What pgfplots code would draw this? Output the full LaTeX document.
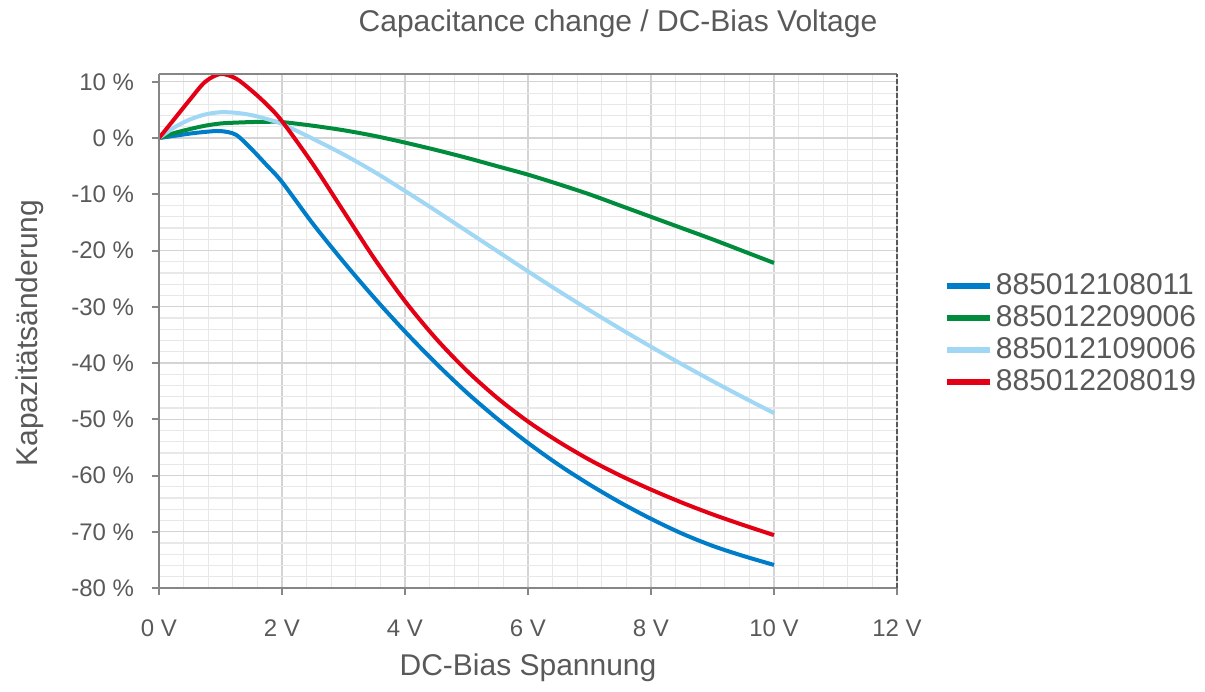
\documentclass[border=0pt]{standalone}
\usepackage{pgfplots}
\pgfplotsset{compat=1.18}
\usepackage{fontspec}
\setmainfont{Liberation Sans}

\definecolor{txt}{RGB}{89,89,89}
\definecolor{axgray}{RGB}{134,134,134}
\definecolor{majgrid}{RGB}{212,212,212}
\definecolor{mingrid}{RGB}{232,232,232}
\definecolor{cBlue}{RGB}{0,125,200}
\definecolor{cGreen}{RGB}{0,140,60}
\definecolor{cLight}{RGB}{160,215,245}
\definecolor{cRed}{RGB}{228,0,20}

% Kapazitaetsaenderung (%) over DC-Bias (V)
\pgfplotstableread{
V    b      g      l      r
0    0      0      0      0
0.25 0.4    0.9    1.9    3.4
0.5  0.8    1.6    3.3    6.8
0.75 1.1    2.2    4.2    10.0
1.0  1.25   2.6    4.6    11.4
1.25 0.6    2.75   4.5    10.6
1.5  -1.9   2.85   4.1    8.5
1.75 -4.8   2.9    3.4    6.0
2.0  -7.8   2.85   2.5    3.0
2.5  -15.2  2.2    -0.1   -4.6
3.0  -22.0  1.4    -2.9   -13.0
3.5  -28.4  0.4    -6.0   -21.4
4.0  -34.4  -0.8   -9.4   -29.0
4.5  -40.0  -2.1   -12.9  -35.6
5.0  -45.2  -3.5   -16.5  -41.3
5.5  -49.9  -5.0   -20.1  -46.2
6.0  -54.2  -6.5   -23.7  -50.4
6.5  -58.1  -8.2   -27.2  -54.0
7.0  -61.6  -10.0  -30.6  -57.2
7.5  -64.8  -12.0  -33.9  -60.0
8.0  -67.7  -14.0  -37.1  -62.5
8.5  -70.3  -16.0  -40.2  -64.8
9.0  -72.5  -18.0  -43.2  -66.9
9.5  -74.3  -20.1  -46.1  -68.8
10   -75.9  -22.2  -48.9  -70.6
}\capdata

\begin{document}
\begin{tikzpicture}[every node/.append style={text=txt}]
\useasboundingbox (-79.5bp,-52bp) rectangle (523bp,294bp);
\begin{axis}[
  name=ax,
  width=369bp, height=257bp, scale only axis,
  xmin=0, xmax=12, ymin=-80, ymax=11.4,
  xtick={0,2,...,12}, ytick={-80,-70,...,10},
  xticklabels={0 V,2 V,4 V,6 V,8 V,10 V,12 V},
  yticklabels={-80 \%,-70 \%,-60 \%,-50 \%,-40 \%,-30 \%,-20 \%,-10 \%,0 \%,10 \%},
  minor x tick num=4, minor y tick num=4,
  grid=both,
  major grid style={draw=majgrid, line width=0.6bp},
  minor grid style={draw=mingrid, line width=0.6bp},
  axis line style={draw=none},
  tick align=outside, major tick length=3.5bp, minor tick length=0pt,
  tick style={color=axgray, line width=1bp},
  xtick pos=left, ytick pos=left,
  ticklabel style={font=\fontsize{12bp}{14bp}\selectfont, text=txt},
  xticklabel style={yshift=-9bp},
  yticklabel style={xshift=-5.5bp},
  title={Capacitance change / DC-Bias Voltage},
  every axis title/.style={at={(axis description cs:0.622,1.097)}, anchor=center,
    text=txt, font=\fontsize{15bp}{18bp}\selectfont},
  xlabel={DC-Bias Spannung},
  xlabel style={at={(axis description cs:0.5,-0.156)}, anchor=center,
    text=txt, font=\fontsize{15bp}{18bp}\selectfont},
  ylabel={Kapazitätsänderung},
  ylabel style={at={(axis description cs:-0.175,0.496)}, anchor=center,
    text=txt, font=\fontsize{15bp}{18bp}\selectfont},
  legend style={at={(axis description cs:1.063,0.62)}, anchor=north west,
    draw=none, fill=none, inner sep=0pt, text=txt,
    font=\fontsize{15bp}{18bp}\selectfont,
    nodes={inner sep=1.5bp, text height=11bp, text depth=2bp, text=txt}},
  legend cell align=left,
  legend image code/.code={\draw[#1, line width=3bp] (0bp,0bp) -- (21.5bp,0bp);},
  every axis plot/.append style={line width=2bp, smooth, tension=0.5},
]
\addplot[cBlue]  table[x=V, y=b] {\capdata};
\addplot[cGreen] table[x=V, y=g] {\capdata};
\addplot[cLight] table[x=V, y=l] {\capdata};
\addplot[cRed]   table[x=V, y=r] {\capdata};
\legend{885012108011, 885012209006, 885012109006, 885012208019}
\end{axis}
\draw[axgray, line width=1bp] (ax.north west) -- (ax.north east);
\draw[axgray, line width=1.3bp] (ax.north west) -- (ax.south west) -- (ax.south east);
\draw[black!65, line width=0.8bp, dash pattern=on 2.5bp off 1bp] (ax.south east) -- (ax.north east);
\end{tikzpicture}
\end{document}
